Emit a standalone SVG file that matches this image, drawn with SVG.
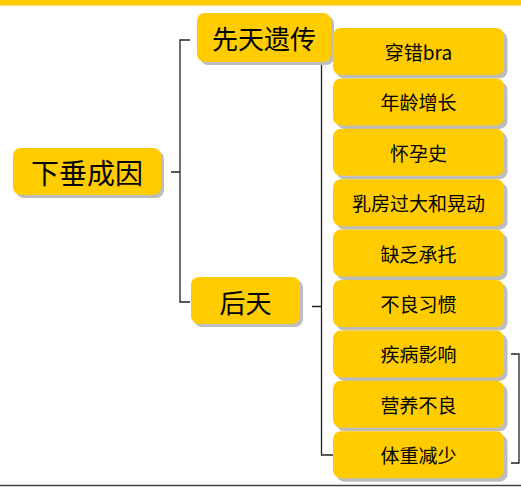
<svg xmlns="http://www.w3.org/2000/svg" width="521" height="487" viewBox="0 0 521 487">
<defs>
<style>
.box{fill:#FFCC00;}
.sh{fill:#BDBDBD;}
.t{font-family:"Noto Sans CJK SC","Noto Sans",sans-serif;fill:#000;text-anchor:middle;dominant-baseline:central;font-weight:400;}
.big{font-size:28px;}
.mid{font-size:26px;}
.small{font-size:19px;}
.ln{fill:none;stroke:#222;stroke-width:1.3;}
</style>
</defs>
<rect x="0" y="0" width="521" height="487" fill="#fff"/>
<rect x="0" y="0" width="521" height="5.5" fill="#FFCC00"/>
<line x1="0" y1="485.5" x2="521" y2="485.5" stroke="#444" stroke-width="1.5"/>
<g id="connectors">
<path class="ln" d="M190,40 H180 V302 H190 M171,172 H180"/>
<path class="ln" d="M331,62 H321.5 V455 H333 M312,306.5 H321.5"/>
<path class="ln" d="M511,354 H519 V463 H511"/>
</g>
<g id="root">
<rect class="sh" x="16" y="151" width="148" height="47" rx="8"/>
<rect class="box" x="13" y="148" width="148" height="47" rx="8"/>
<text class="t big" x="87" y="172">下垂成因</text>
</g>
<g id="xiantian">
<rect class="sh" x="200" y="16" width="134" height="49" rx="8"/>
<rect class="box" x="197" y="13" width="134" height="49" rx="8"/>
<text class="t mid" x="264" y="37.5">先天遗传</text>
</g>
<g id="houtian">
<rect class="sh" x="194" y="280" width="109" height="47" rx="8"/>
<rect class="box" x="191" y="277" width="109" height="47" rx="8"/>
<text class="t mid" x="245.5" y="301">后天</text>
</g>
<g id="c1"><rect class="sh" x="336.5" y="31.5" width="171" height="47" rx="8"/><rect class="box" x="333" y="28" width="171" height="47" rx="8"/><text class="t small" x="418.5" y="51.5">穿错bra</text></g>
<g id="c2"><rect class="sh" x="336.5" y="81.9" width="171" height="47" rx="8"/><rect class="box" x="333" y="78.4" width="171" height="47" rx="8"/><text class="t small" x="418.5" y="101.9">年龄增长</text></g>
<g id="c3"><rect class="sh" x="336.5" y="132.3" width="171" height="47" rx="8"/><rect class="box" x="333" y="128.8" width="171" height="47" rx="8"/><text class="t small" x="418.5" y="152.3">怀孕史</text></g>
<g id="c4"><rect class="sh" x="336.5" y="182.7" width="171" height="47" rx="8"/><rect class="box" x="333" y="179.2" width="171" height="47" rx="8"/><text class="t small" x="418.5" y="202.7">乳房过大和晃动</text></g>
<g id="c5"><rect class="sh" x="336.5" y="233.1" width="171" height="47" rx="8"/><rect class="box" x="333" y="229.6" width="171" height="47" rx="8"/><text class="t small" x="418.5" y="253.1">缺乏承托</text></g>
<g id="c6"><rect class="sh" x="336.5" y="283.5" width="171" height="47" rx="8"/><rect class="box" x="333" y="280" width="171" height="47" rx="8"/><text class="t small" x="418.5" y="303.5">不良习惯</text></g>
<g id="c7"><rect class="sh" x="336.5" y="333.9" width="171" height="47" rx="8"/><rect class="box" x="333" y="330.4" width="171" height="47" rx="8"/><text class="t small" x="418.5" y="353.9">疾病影响</text></g>
<g id="c8"><rect class="sh" x="336.5" y="384.3" width="171" height="47" rx="8"/><rect class="box" x="333" y="380.8" width="171" height="47" rx="8"/><text class="t small" x="418.5" y="404.3">营养不良</text></g>
<g id="c9"><rect class="sh" x="336.5" y="434.7" width="171" height="47" rx="8"/><rect class="box" x="333" y="431.2" width="171" height="47" rx="8"/><text class="t small" x="418.5" y="454.7">体重减少</text></g>
</svg>
